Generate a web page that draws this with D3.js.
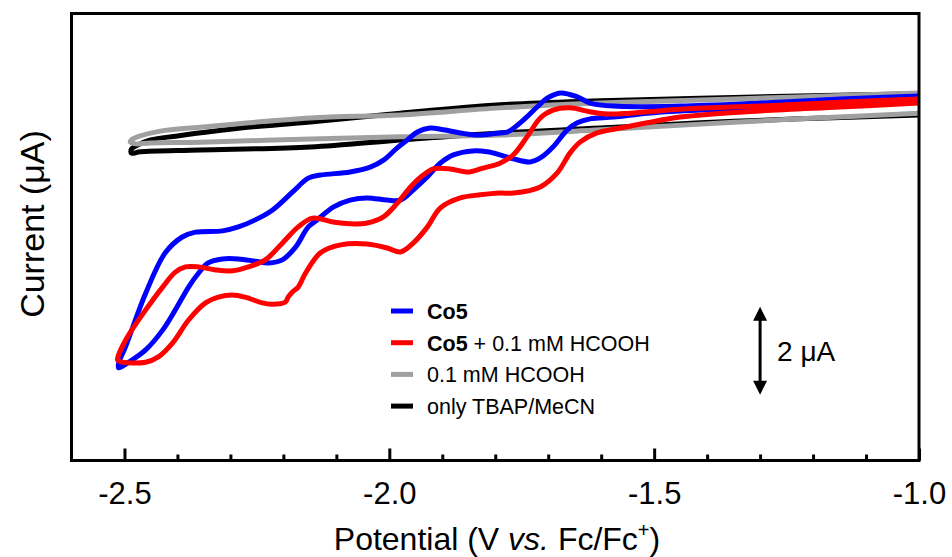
<!DOCTYPE html>
<html>
<head>
<meta charset="utf-8">
<script src="https://cdn.jsdelivr.net/npm/d3@7"></script>
<style>
  body { margin: 0; background: #fff; }
  text { font-family: "Liberation Sans", Arial, sans-serif; fill: #000; }
</style>
</head>
<body>
<svg width="952" height="557"></svg>
<script>
// CV traces, [potential (V vs. Fc/Fc+), current (uA)]
// each starts at -1.0 V, runs to the switching potential and comes back
const co5 = [
  [-1.000, -1.00], [-1.149, -1.07], [-1.300, -1.16], [-1.451, -1.23], [-1.513, -1.28],
  [-1.577, -1.37], [-1.621, -1.41], [-1.645, -1.50], [-1.664, -1.66], [-1.691, -2.05],
  [-1.715, -2.30], [-1.734, -2.39], [-1.766, -2.32], [-1.791, -2.23], [-1.815, -2.16],
  [-1.842, -2.14], [-1.879, -2.23], [-1.904, -2.42], [-1.928, -2.73], [-1.955, -3.03],
  [-1.979, -3.26], [-2.004, -3.26], [-2.042, -3.21], [-2.074, -3.26], [-2.106, -3.42],
  [-2.136, -3.71], [-2.153, -3.87], [-2.177, -4.33], [-2.202, -4.62], [-2.228, -4.69],
  [-2.253, -4.65], [-2.285, -4.60], [-2.315, -4.60], [-2.342, -4.69], [-2.360, -4.92],
  [-2.379, -5.24], [-2.404, -5.76], [-2.428, -6.22], [-2.460, -6.67], [-2.492, -6.95],
  [-2.511, -7.08],
  [-2.511, -6.97], [-2.498, -6.60], [-2.460, -5.38], [-2.423, -4.46], [-2.391, -4.10],
  [-2.366, -3.99], [-2.315, -3.96], [-2.285, -3.87], [-2.253, -3.71], [-2.221, -3.49],
  [-2.183, -3.08], [-2.153, -2.76], [-2.130, -2.69], [-2.074, -2.62], [-2.036, -2.51],
  [-2.011, -2.35], [-1.985, -2.07], [-1.966, -1.89], [-1.947, -1.71], [-1.923, -1.62],
  [-1.898, -1.66], [-1.866, -1.73], [-1.834, -1.78], [-1.791, -1.73], [-1.777, -1.71],
  [-1.747, -1.44], [-1.721, -1.14], [-1.702, -0.94], [-1.677, -0.82], [-1.645, -0.91],
  [-1.621, -1.05], [-1.577, -1.12], [-1.451, -1.12], [-1.300, -1.05], [-1.149, -0.96],
  [-1.000, -0.89]
];

const co5Acid = [
  [-1.000, -1.05], [-1.149, -1.14], [-1.300, -1.23], [-1.451, -1.37], [-1.513, -1.50],
  [-1.564, -1.62], [-1.608, -1.73], [-1.640, -1.94], [-1.659, -2.19], [-1.683, -2.64],
  [-1.715, -2.96], [-1.766, -3.10], [-1.791, -3.10], [-1.828, -3.14], [-1.866, -3.21],
  [-1.904, -3.44], [-1.928, -3.87], [-1.955, -4.24], [-1.979, -4.44], [-2.004, -4.35],
  [-2.042, -4.26], [-2.092, -4.28], [-2.130, -4.46], [-2.158, -4.92], [-2.172, -5.24],
  [-2.183, -5.35], [-2.191, -5.47], [-2.196, -5.58], [-2.221, -5.63], [-2.240, -5.60],
  [-2.272, -5.47], [-2.296, -5.42], [-2.323, -5.47], [-2.347, -5.60], [-2.379, -5.99],
  [-2.409, -6.51], [-2.436, -6.83], [-2.460, -6.95], [-2.504, -6.95], [-2.513, -6.90],
  [-2.513, -6.86], [-2.498, -6.45], [-2.460, -5.76], [-2.428, -5.24], [-2.404, -4.90],
  [-2.385, -4.78], [-2.360, -4.78], [-2.328, -4.85], [-2.296, -4.87], [-2.266, -4.78],
  [-2.234, -4.62], [-2.202, -4.24], [-2.172, -3.87], [-2.145, -3.67], [-2.106, -3.76],
  [-2.074, -3.80], [-2.042, -3.78], [-2.011, -3.64], [-1.985, -3.33], [-1.960, -2.96],
  [-1.936, -2.69], [-1.917, -2.55], [-1.885, -2.55], [-1.853, -2.62], [-1.823, -2.53],
  [-1.791, -2.42], [-1.766, -2.23], [-1.740, -1.82], [-1.715, -1.39], [-1.691, -1.21],
  [-1.659, -1.16], [-1.621, -1.25], [-1.589, -1.30], [-1.545, -1.28], [-1.451, -1.19],
  [-1.300, -1.12], [-1.149, -1.03], [-1.000, -0.96]
];

const acidOnly = [
  [-1.000, -1.28], [-1.225, -1.41], [-1.413, -1.53], [-1.602, -1.66], [-1.791, -1.78],
  [-1.979, -1.82], [-2.149, -1.87], [-2.357, -1.94], [-2.451, -1.96], [-2.479, -1.98],
  [-2.489, -1.94],
  [-2.487, -1.89], [-2.470, -1.80], [-2.432, -1.69], [-2.357, -1.60], [-2.149, -1.39],
  [-1.979, -1.32], [-1.791, -1.16], [-1.602, -1.05], [-1.413, -0.98], [-1.225, -0.91],
  [-1.000, -0.82]
];

const blank = [
  [-1.000, -1.32], [-1.225, -1.41], [-1.413, -1.50], [-1.602, -1.62], [-1.791, -1.73],
  [-1.979, -1.89], [-2.149, -2.05], [-2.357, -2.12], [-2.470, -2.16], [-2.487, -2.19],
  [-2.487, -2.10], [-2.479, -2.03], [-2.451, -1.89], [-2.400, -1.80], [-2.281, -1.62],
  [-2.149, -1.48], [-1.979, -1.28], [-1.791, -1.09], [-1.602, -1.00], [-1.413, -0.94],
  [-1.225, -0.89], [-1.000, -0.84]
];

const majorTicks = [-2.5, -2.0, -1.5, -1.0];
const minorTicks = [-2.4, -2.3, -2.2, -2.1, -1.9, -1.8, -1.7, -1.6, -1.4, -1.3, -1.2, -1.1];
const legendBold = ["Co5", "Co5", "", ""];
const legendRest = ["", " + 0.1 mM HCOOH", "0.1 mM HCOOH", "only TBAP/MeCN"];
const colors = ["#0000ff", "#ff0000", "#a0a0a0", "#000000"];
const scaleBar = [-5.69, -7.69]; // 2 uA

const svg = d3.select("svg");
const frame = {left: 71.5, right: 919, top: 13.5, bottom: 460.5};
const font = "'Liberation Sans', Arial, sans-serif";

const x = d3.scaleLinear().domain([-2.6, -1.0]).range([frame.left, frame.right]);
const y = d3.scaleLinear().domain([-9.2, 1.0]).range([461, 13]);

const line = d3.line()
  .x(d => x(d[0]))
  .y(d => y(d[1]))
  .curve(d3.curveCatmullRom.alpha(0.5));

// draw order: blank, acid, co5, co5 + acid
const traces = [[blank, colors[3]], [acidOnly, colors[2]], [co5, colors[0]], [co5Acid, colors[1]]];
svg.append("g")
  .selectAll("path")
  .data(traces)
  .join("path")
    .attr("d", d => line(d[0]))
    .attr("fill", "none")
    .attr("stroke", d => d[1])
    .attr("stroke-width", 5)
    .attr("stroke-linejoin", "round");

// frame
svg.append("rect")
  .attr("x", frame.left).attr("y", frame.top)
  .attr("width", frame.right - frame.left).attr("height", frame.bottom - frame.top)
  .attr("fill", "none").attr("stroke", "#000").attr("stroke-width", 3);

// minor ticks
const minorAxis = svg.append("g")
  .attr("transform", `translate(0,${frame.bottom})`)
  .call(d3.axisBottom(x).tickValues(minorTicks).tickSize(-6).tickFormat(""));
minorAxis.select(".domain").remove();
minorAxis.selectAll("line").attr("stroke-width", 3);

// major ticks with labels
const majorAxis = svg.append("g")
  .attr("transform", `translate(0,${frame.bottom})`)
  .call(d3.axisBottom(x).tickValues(majorTicks).tickSize(-12).tickPadding(21)
    .tickFormat(d => d.toFixed(1)));
majorAxis.select(".domain").remove();
majorAxis.selectAll("line").attr("stroke-width", 3);
majorAxis.selectAll("text")
  .attr("font-family", font)
  .attr("font-size", 31)
  .attr("fill", "#000");

// axis titles
const xt = svg.append("text")
  .attr("x", 497).attr("y", 550)
  .attr("text-anchor", "middle")
  .attr("font-family", font)
  .attr("font-size", 32);
xt.append("tspan").text("Potential (V ");
xt.append("tspan").attr("font-style", "italic").text("vs.");
xt.append("tspan").text(" Fc/Fc");
xt.append("tspan").attr("dy", -13).attr("font-size", 20).text("+");
xt.append("tspan").attr("dy", 13).text(")");

svg.append("text")
  .attr("transform", "rotate(-90)")
  .attr("x", -224).attr("y", 44)
  .attr("text-anchor", "middle")
  .attr("font-family", font)
  .attr("font-size", 34)
  .text("Current (\u03bcA)");

// legend
const legend = svg.append("g");
colors.forEach((c, i) => {
  const ry = 311 + i * 31.7;
  legend.append("line")
    .attr("x1", 391).attr("x2", 413)
    .attr("y1", ry).attr("y2", ry)
    .attr("stroke", c).attr("stroke-width", 5);
  const t = legend.append("text")
    .attr("x", 427).attr("y", ry + 8)
    .attr("font-family", font)
    .attr("font-size", 21.5);
  if (legendBold[i]) t.append("tspan").attr("font-weight", "bold").text(legendBold[i]);
  t.append("tspan").text(legendRest[i]);
});

// scale bar
const sx = x(-1.3), sy0 = y(scaleBar[0]), sy1 = y(scaleBar[1]);
const head = 14, half = 7;
svg.append("line")
  .attr("x1", sx).attr("x2", sx)
  .attr("y1", sy0 + head - 2).attr("y2", sy1 - head + 2)
  .attr("stroke", "#000").attr("stroke-width", 3);
svg.append("path")
  .attr("d", `M${sx},${sy0}L${sx - half},${sy0 + head}L${sx + half},${sy0 + head}Z` +
             `M${sx},${sy1}L${sx - half},${sy1 - head}L${sx + half},${sy1 - head}Z`)
  .attr("fill", "#000");
svg.append("text")
  .attr("x", sx + 17).attr("y", (sy0 + sy1) / 2 + 10)
  .attr("font-family", font)
  .attr("font-size", 28)
  .text("2 \u03bcA");
</script>
</body>
</html>
